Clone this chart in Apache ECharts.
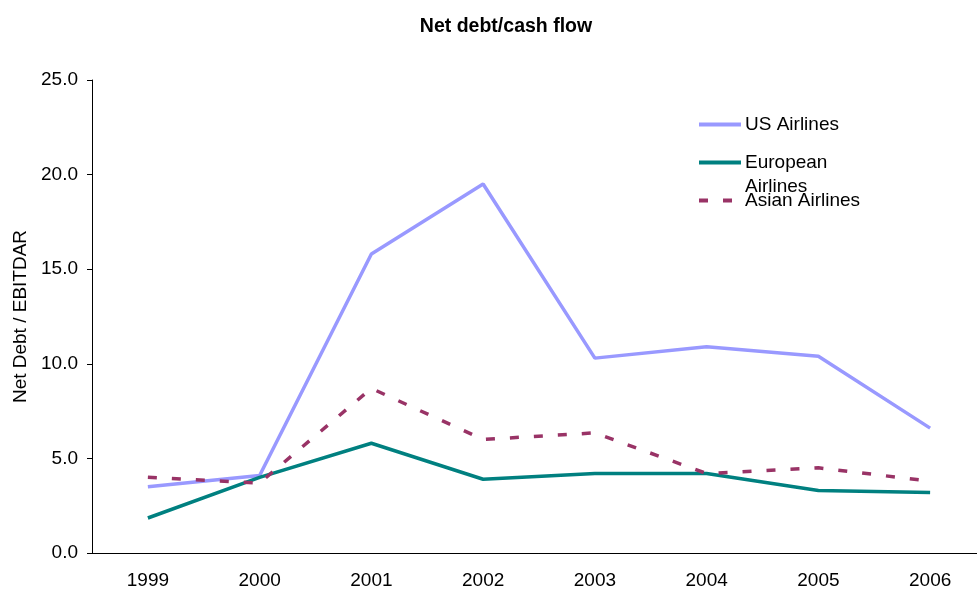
<!DOCTYPE html>
<html>
<head>
<meta charset="utf-8">
<script src="https://cdn.jsdelivr.net/npm/echarts@6/dist/echarts.min.js"></script>
<style>
  html, body { margin: 0; padding: 0; background: #fff; overflow: hidden; }
  #chart { width: 990px; height: 590px; }
</style>
</head>
<body>
<div id="chart"></div>
<script>
const years = ['1999', '2000', '2001', '2002', '2003', '2004', '2005', '2006'];
const usAirlines = [3.5, 4.1, 15.8, 19.5, 10.3, 10.9, 10.4, 6.6];
const europeanAirlines = [1.85, 4.0, 5.8, 3.9, 4.2, 4.2, 3.3, 3.2];
const asianAirlines = [4.0, 3.7, 8.7, 6.0, 6.35, 4.2, 4.5, 3.8];
const yTicks = [0, 5, 10, 15, 20, 25];

const font = 'Liberation Sans, Arial, sans-serif';

// the plot area runs a little past the right edge of the window, as in the original
const chart = echarts.init(document.getElementById('chart'));
chart.setOption({
  animation: false,
  title: {
    text: 'Net debt/cash flow',
    left: 501,
    top: 12,
    textAlign: 'center',
    textStyle: { fontFamily: font, fontSize: 19.5, fontWeight: 'bold', color: '#000' }
  },
  legend: {
    orient: 'vertical',
    left: 697,
    top: 115,
    padding: 0,
    itemWidth: 42,
    itemHeight: 16,
    itemGap: 19,
    itemStyle: { opacity: 0 },
    lineStyle: { width: 4 },
    data: ['US Airlines', 'European', 'Asian Airlines'],
    textStyle: { fontFamily: font, fontSize: 19, color: '#000', padding: [0, 0, 0, -1] }
  },
  graphic: [{
    type: 'text',
    left: 745,
    top: 177,
    style: { text: 'Airlines', font: '19px ' + font, fill: '#000' }
  }],
  grid: { left: 92, top: 80, right: 4, height: 474 },
  xAxis: {
    type: 'category',
    data: years,
    boundaryGap: true,
    axisLine: { lineStyle: { color: '#000', width: 1 } },
    axisTick: { length: 5, lineStyle: { color: '#000' } },
    axisLabel: { margin: 18, fontFamily: font, fontSize: 19, color: '#000' },
    splitLine: { show: false }
  },
  yAxis: {
    type: 'value',
    min: yTicks[0],
    max: yTicks[yTicks.length - 1],
    interval: 5,
    name: 'Net Debt / EBITDAR',
    nameLocation: 'middle',
    nameGap: 62,
    nameTextStyle: { fontFamily: font, fontSize: 19, color: '#000' },
    axisLine: { show: true, lineStyle: { color: '#000', width: 1 } },
    axisTick: { show: true, length: 5, lineStyle: { color: '#000' } },
    axisLabel: { margin: 14, fontFamily: font, fontSize: 19, color: '#000',
      formatter: v => v.toFixed(1) },
    splitLine: { show: false }
  },
  series: [
    {
      name: 'US Airlines', type: 'line', data: usAirlines,
      symbol: 'none', color: '#9999ff',
      lineStyle: { color: '#9999ff', width: 3.5 }
    },
    {
      name: 'European', type: 'line', data: europeanAirlines,
      symbol: 'none', color: '#008080',
      lineStyle: { color: '#008080', width: 3.5 }
    },
    {
      name: 'Asian Airlines', type: 'line', data: asianAirlines,
      symbol: 'none', color: '#993366',
      lineStyle: { color: '#993366', width: 3.5, type: [9, 15] }
    }
  ]
});
</script>
</body>
</html>
